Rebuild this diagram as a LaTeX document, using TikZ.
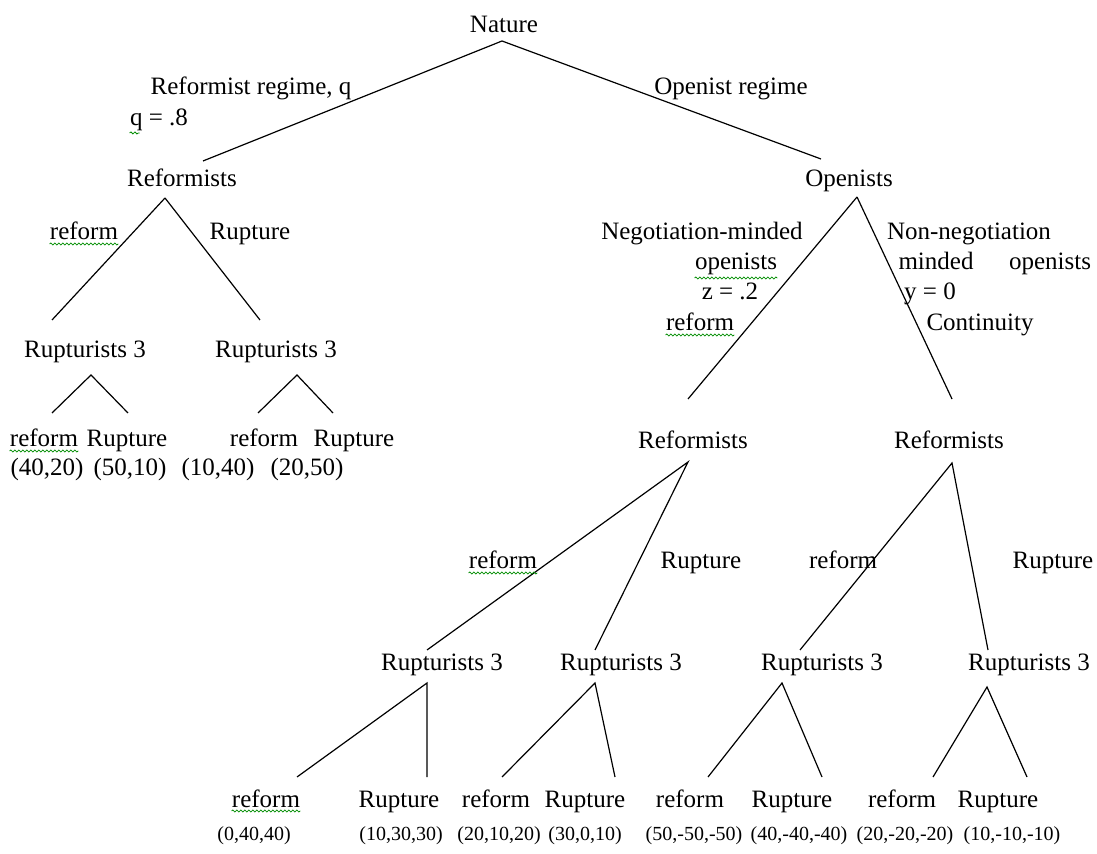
\documentclass[tikz,border=0pt]{standalone}
\usepackage{fontspec}
\setmainfont{Liberation Serif}
\usetikzlibrary{decorations.pathmorphing}

\begin{document}
\begin{tikzpicture}[
  x=0.5pt, y=-0.5pt,
  txt/.style={font=\fontsize{12.5}{15}\selectfont, inner sep=0pt, anchor=base},
  pay/.style={font=\fontsize{10}{12}\selectfont, inner sep=0pt, anchor=base},
  branch/.style={line width=0.6pt},
  spell/.style={green!55!black, line width=0.4pt, decorate,
    decoration={snake, amplitude=0.5pt, segment length=2pt}}
]
\useasboundingbox (0,0) rectangle (1097,854);

% --- Nature ---
\node[txt] (nat) at (504,33) {Nature};
\node[txt] (regR) at (251,95) {Reformist regime, q};
\node[txt] (qval) at (159,126) {q = .8};
\node[txt] (regO) at (731,95) {Openist regime};
\coordinate (nat-a) at (502,41);
\coordinate (refL-t) at (203,161);
\coordinate (opn-t) at (821,159);
\draw[branch] (nat-a) -- (refL-t);
\draw[branch] (nat-a) -- (opn-t);

% --- Reformist regime ---
\node[txt] (refL) at (182,187) {Reformists};
\node[txt] (mvA) at (84,240) {reform};
\node[txt] (mvB) at (250,240) {Rupture};
\node[txt] (rupA) at (85,358) {Rupturists 3};
\node[txt] (rupB) at (276,358) {Rupturists 3};
\coordinate (refL-a) at (165,198);
\coordinate (rupA-t) at (52,320);
\coordinate (rupB-t) at (260,320);
\draw[branch] (refL-a) -- (rupA-t);
\draw[branch] (refL-a) -- (rupB-t);

\coordinate (rupA-a) at (91,375);
\coordinate (rupB-a) at (297,375);
\foreach \i/\x in {1/52, 2/128, 3/258, 4/333}
  \coordinate (la\i-t) at (\x,413);
\draw[branch] (la1-t) -- (rupA-a) -- (la2-t);
\draw[branch] (la3-t) -- (rupB-a) -- (la4-t);

\foreach \i/\x/\t in {1/44/reform, 2/127/Rupture, 3/264/reform, 4/354/Rupture}
  \node[txt] (la\i) at (\x,447) {\t};
\foreach \i/\x/\t in {1/47/{(40,20)}, 2/130/{(50,10)}, 3/218/{(10,40)}, 4/307/{(20,50)}}
  \node[txt] (pa\i) at (\x,476) {\t};

% --- Openist regime ---
\node[txt] (opn) at (849,187) {Openists};
\node[txt] (ngA) at (702,240) {Negotiation-minded};
\node[txt] (ngB) at (736,270) {openists};
\node[txt] (ngC) at (730,300) {z = .2};
\node[txt] (ngD) at (700,331) {reform};
\node[txt] (nnA) at (969,240) {Non-negotiation};
\node[txt] (nnB) at (936,270) {minded};
\node[txt] (nnC) at (1050,270) {openists};
\node[txt] (nnD) at (930,300) {y = 0};
\node[txt] (nnE) at (980,331) {Continuity};
\coordinate (opn-a) at (857,197);
\coordinate (refN-t) at (688,399);
\coordinate (refC-t) at (952,399);
\draw[branch] (opn-a) -- (refN-t);
\draw[branch] (opn-a) -- (refC-t);

\node[txt] (refN) at (693,449) {Reformists};
\node[txt] (refC) at (949,449) {Reformists};
\node[txt] (mvC) at (503,569) {reform};
\node[txt] (mvD) at (701,569) {Rupture};
\node[txt] (mvE) at (843,569) {reform};
\node[txt] (mvF) at (1053,569) {Rupture};
\coordinate (refN-a) at (688,462);
\coordinate (refC-a) at (952,463);
\foreach \i/\x in {1/427, 2/595, 3/800, 4/988}
  \coordinate (rup\i-t) at (\x,650);
\draw[branch] (rup1-t) -- (refN-a) -- (rup2-t);
\draw[branch] (rup3-t) -- (refC-a) -- (rup4-t);

% --- Rupturists 3, last moves ---
\foreach \i/\x in {1/442, 2/621, 3/822, 4/1029}
  \node[txt] (rup\i) at (\x,670) {Rupturists 3};
\coordinate (rup1-a) at (427,683);
\coordinate (rup2-a) at (595,683);
\coordinate (rup3-a) at (782,683);
\coordinate (rup4-a) at (987,687);
\foreach \i/\x in {1/297, 2/427, 3/502, 4/615, 5/708, 6/822, 7/933, 8/1027}
  \coordinate (lf\i-t) at (\x,777);
\draw[branch] (lf1-t) -- (rup1-a) -- (lf2-t);
\draw[branch] (lf3-t) -- (rup2-a) -- (lf4-t);
\draw[branch] (lf5-t) -- (rup3-a) -- (lf6-t);
\draw[branch] (lf7-t) -- (rup4-a) -- (lf8-t);

\foreach \i/\x/\t in {1/266/reform, 2/399/Rupture, 3/496/reform, 4/585/Rupture,
                      5/690/reform, 6/792/Rupture, 7/902/reform, 8/998/Rupture}
  \node[txt] (lf\i) at (\x,807) {\t};
\foreach \i/\x/\t in {1/254/{(0,40,40)}, 2/401/{(10,30,30)}, 3/499/{(20,10,20)},
                      4/585/{(30,0,10)}, 5/694/{(50,-50,-50)}, 6/799/{(40,-40,-40)},
                      7/905/{(20,-20,-20)}, 8/1012/{(10,-10,-10)}}
  \node[pay] (pf\i) at (\x,840) {\t};

% spelling marks
\draw[spell] ([yshift=-2pt]mvA.base west) -- ([yshift=-2pt]mvA.base east);
\draw[spell] ([yshift=-2pt]la1.base west) -- ([yshift=-2pt]la1.base east);
\draw[spell] ([yshift=-3.5pt]qval.base west) -- ++(10,0);
\draw[spell] ([yshift=-4pt]ngB.base west) -- ([yshift=-4pt]ngB.base east);
\draw[spell] ([yshift=-2pt]ngD.base west) -- ([yshift=-2pt]ngD.base east);
\draw[spell] ([yshift=-2pt]mvC.base west) -- ([yshift=-2pt]mvC.base east);
\draw[spell] ([yshift=-2pt]lf1.base west) -- ([yshift=-2pt]lf1.base east);

\end{tikzpicture}
\end{document}
